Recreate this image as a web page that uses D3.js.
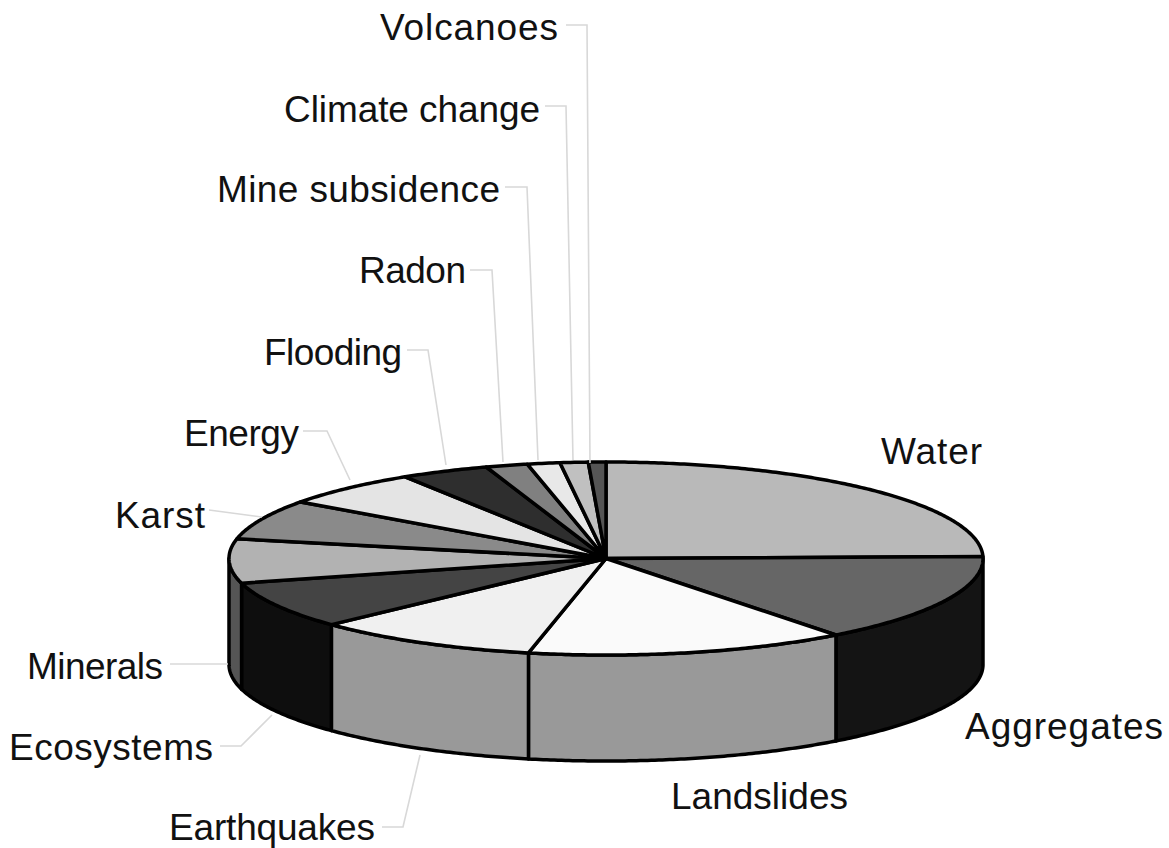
<!DOCTYPE html>
<html>
<head>
<meta charset="utf-8">
<script src="https://cdn.jsdelivr.net/npm/d3@7"></script>
<style>
html, body { margin: 0; padding: 0; background: #fff; }
svg { display: block; }
text { font-family: "Liberation Sans", Arial, sans-serif; font-size: 37px; fill: #111; }
</style>
</head>
<body>
<div id="chart"></div>
<script>
var categories = ["Water", "Aggregates", "Landslides", "Earthquakes", "Ecosystems", "Minerals", "Karst",
    "Energy", "Flooding", "Radon", "Mine subsidence", "Climate change", "Volcanoes"];
var shares = [24.7, 14.9, 13.75, 9.7, 7.9, 7.4, 6.7, 6.1, 3.8, 1.8, 1.4, 1.2, 0.75];

var top_colors = ["#b9b9b9", "#666666", "#fafafa", "#f0f0f0", "#444444", "#b2b2b2", "#8a8a8a",
    "#e4e4e4", "#2e2e2e", "#808080", "#e8e8e8", "#c0c0c0", "#555555"];
var side_colors = ["#777777", "#141414", "#999999", "#999999", "#0e0e0e", "#555555", "#555555",
    "#888888", "#111111", "#444444", "#888888", "#777777", "#222222"];

// label anchor (left, baseline), width of the word, then the leader line points
var label_layout = {
    "Water": { x: 881, y: 464, w: 101, leader: [] },
    "Aggregates": { x: 965, y: 739, w: 198, leader: [] },
    "Landslides": { x: 671, y: 809, w: 177, leader: [] },
    "Earthquakes": { x: 169, y: 840, w: 206, leader: [[382, 827], [403, 827], [420, 755]] },
    "Ecosystems": { x: 9, y: 760, w: 204, leader: [[220, 746], [241, 746], [272, 715]] },
    "Minerals": { x: 27, y: 679, w: 136, leader: [[170, 664], [228, 664]] },
    "Karst": { x: 115, y: 528, w: 90, leader: [[209, 510], [262, 517]] },
    "Energy": { x: 184, y: 446, w: 115, leader: [[303, 431], [327, 431], [350, 480]] },
    "Flooding": { x: 264, y: 365, w: 138, leader: [[407, 350], [428, 350], [446, 465]] },
    "Radon": { x: 359, y: 283, w: 107, leader: [[470, 270], [492, 270], [503, 462]] },
    "Mine subsidence": { x: 217, y: 202, w: 283, leader: [[505, 187], [527, 187], [538, 460]] },
    "Climate change": { x: 284, y: 122, w: 256, leader: [[545, 106], [566, 106], [573, 460]] },
    "Volcanoes": { x: 380, y: 40, w: 178, leader: [[566, 25], [587, 25], [590, 463]] }
};

var pie_width = 1169,
    pie_height = 848,
    pie_depth = 106;

var pie_svg = d3.select("#chart")
    .append("svg")
    .attr("width", pie_width)
    .attr("height", pie_height);

// the flat ellipse of the top face
var pie_x = d3.scaleLinear().domain([-1, 1]).range([229, 983]);
var pie_y = d3.scaleLinear().domain([-1, 1]).range([462, 655]);

var pie_layout = d3.pie()
    .sort(null)
    .value(function (d) { return d; });

var arcs = pie_layout(shares);

function rim(a0, a1) {
    var n = Math.max(2, Math.ceil((a1 - a0) / 0.01));
    return d3.range(n + 1).map(function (i) {
        var a = a0 + (a1 - a0) * i / n;
        return [pie_x(Math.sin(a)), pie_y(-Math.cos(a))];
    });
}

var line = d3.line();
var quarter = Math.PI / 2;

// side wall, only the part facing us
pie_svg.append("g")
    .selectAll("path")
    .data(arcs.filter(function (d) { return d.endAngle > quarter && d.startAngle < 3 * quarter; }))
    .enter().append("path")
    .attr("d", function (d) {
        var front = rim(Math.max(d.startAngle, quarter), Math.min(d.endAngle, 3 * quarter));
        var back = front.slice().reverse().map(function (p) { return [p[0], p[1] + pie_depth]; });
        return line(front.concat(back)) + "Z";
    })
    .style("fill", function (d) { return side_colors[d.index]; })
    .style("stroke", "#000")
    .style("stroke-width", 3.5)
    .style("stroke-linejoin", "round");

// top face
pie_svg.append("g")
    .selectAll("path")
    .data(arcs)
    .enter().append("path")
    .attr("d", function (d) {
        var centre = [pie_x(0), pie_y(0)];
        return line([centre].concat(rim(d.startAngle, d.endAngle))) + "Z";
    })
    .style("fill", function (d) { return top_colors[d.index]; })
    .style("stroke", "#000")
    .style("stroke-width", 3.5)
    .style("stroke-linejoin", "round");

// leaders
pie_svg.append("g")
    .selectAll("path")
    .data(categories.filter(function (c) { return label_layout[c].leader.length > 0; }))
    .enter().append("path")
    .attr("d", function (c) { return line(label_layout[c].leader); })
    .style("fill", "none")
    .style("stroke", "#d8d8d8")
    .style("stroke-width", 1.6);

pie_svg.append("g")
    .selectAll("text")
    .data(categories)
    .enter().append("text")
    .attr("x", function (c) { return label_layout[c].x; })
    .attr("y", function (c) { return label_layout[c].y; })
    .attr("textLength", function (c) { return label_layout[c].w; })
    .attr("lengthAdjust", "spacing")
    .text(function (c) { return c; });
</script>
</body>
</html>
